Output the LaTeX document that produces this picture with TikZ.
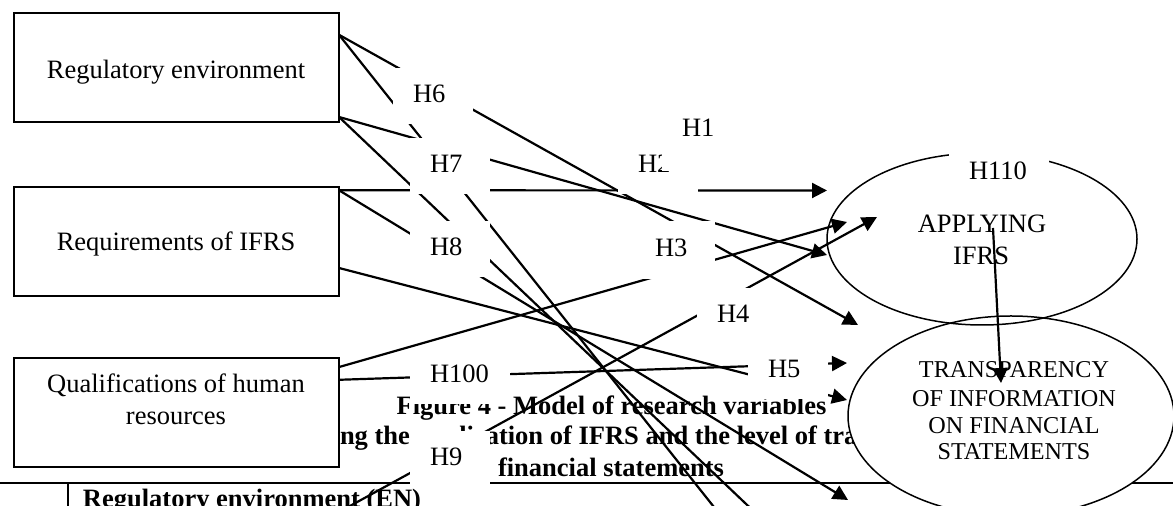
\documentclass[tikz,border=0pt]{standalone}
\usepackage{fontspec}
\setmainfont{Liberation Serif}
\usetikzlibrary{arrows.meta,calc,shapes.geometric}
\begin{document}
\begin{tikzpicture}[x=0.5pt,y=-0.5pt,
  txt/.style={font=\fontsize{13.25}{15}\selectfont, inner sep=0pt, outer sep=0pt, anchor=base},
  captxt/.style={font=\bfseries\fontsize{13.25}{15}\selectfont, inner sep=0pt, outer sep=0pt, anchor=base},
  etxt/.style={font=\fontsize{12.1}{14}\selectfont, inner sep=0pt, outer sep=0pt, anchor=base},
  varbox/.style={draw, line width=1pt, fill=white, minimum width=162.5pt, minimum height=54.5pt, anchor=north west, inner sep=0pt, outer sep=0pt},
  ell/.style={ellipse, draw, line width=0.75pt, inner sep=0pt, outer sep=0pt},
  tabrule/.style={line width=1pt},
  conn/.style={line width=1.1pt},
  arr/.style={conn, -{Triangle[length=7.5pt,width=7.5pt]}},
  lbl/.style={fill=white, anchor=north west, inner xsep=10pt, inner ysep=0pt, text width=20pt, align=left,
              minimum height=28pt, text height=7pt, text depth=0pt, outer sep=0pt,
              font=\fontsize{13.25}{15}\selectfont},
  wide/.style={text width=30pt}]
\useasboundingbox (0,0) rectangle (1173,506);
\clip (0,0) rectangle (1173,506);
\fill[white] (0,0) rectangle (1173,506);

% caption and table (behind)
\node[captxt] (cap1) at (611.5,415) {Figure 4 - Model of research variables};
\node[captxt, anchor=base west] (cap2) at (340,445) {ng the application of IFRS and the level of tra};
\node[captxt] (cap3) at (611,477) {financial statements};
\coordinate (tl) at (0,483);
\coordinate (tr) at (1173,483);
\draw[tabrule] (tl) -- (tr);
\coordinate (vt) at (68,483);
\coordinate (vb) at (68,512);
\draw[tabrule] (vt) -- (vb);
\node[captxt, anchor=base west] (tab) at (83,507.5) {Regulatory environment (EN)};

% boxes
\node[varbox] (box1) at (14,13) {};
\node[varbox] (box2) at (14,187) {};
\node[varbox] (box3) at (14,358) {};
\node[txt] (t1) at (176,79) {Regulatory environment};
\node[txt] (t2) at (176,251) {Requirements of IFRS};
\node[txt] (t3a) at (176,393) {Qualifications of human};
\node[txt] (t3b) at (176,425) {resources};

% ellipses
\node[ell, fill=white, minimum width=163pt, minimum height=100pt] (e2) at (1011,416) {};
\node[ell, minimum width=155pt, minimum height=86pt] (e1) at (982,239) {};
\node[txt] (a1) at (982,233) {APPLYING};
\node[txt] (a2) at (981,265) {IFRS};
\node[etxt] (b1) at (1014,378) {TRANSPARENCY};
\node[etxt] (b2) at (1014,407) {OF INFORMATION};
\node[etxt] (b3) at (1014,434) {ON FINANCIAL};
\node[etxt] (b4) at (1014,460) {STATEMENTS};

% connector end points
\coordinate (sa) at ($(box1.north east)!0.2!(box1.south east)$);
\coordinate (sc) at ($(box1.north east)!0.954!(box1.south east)$);
\coordinate (sh) at ($(box2.north east)!0.03!(box2.south east)$);
\coordinate (sf) at ($(box2.north east)!0.743!(box2.south east)$);
\coordinate (sg) at ($(box3.north east)!0.083!(box3.south east)$);
\coordinate (sk) at ($(box3.north east)!0.2!(box3.south east)$);
\coordinate (ta) at (858,325);
\coordinate (tb) at (756,560);
\coordinate (tc) at (827,255);
\coordinate (td) at (805,560);
\coordinate (th) at (827,190.5);
\coordinate (te) at (848,500);
\coordinate (tf) at (847,400);
\coordinate (tg) at (847,222);
\coordinate (tk) at (847,363);
\coordinate (sm) at (300,533.4);
\coordinate (tm) at (877,217);
\coordinate (sv) at (993,228);
\coordinate (tv) at (1001,383);

% connectors
\draw[arr] (sa) -- (ta);
\draw[conn] (sa) -- (tb);
\draw[arr] (sc) -- (tc);
\draw[conn] (sc) -- (td);
\draw[arr] (sh) -- (th);
\draw[arr] (sh) -- (te);
\draw[arr] (sf) -- (tf);
\draw[arr] (sg) -- (tg);
\draw[arr] (sk) -- (tk);
\draw[arr] (sm) -- (tm);
\draw[arr] (sv) -- (tv);

% hypothesis labels (white text boxes)
\node[lbl] (h6) at (393,68) {H6};
\node[lbl] (h7) at (410,138) {H7};
\node[lbl] (h8) at (410,221) {H8};
\node[lbl] (h2) at (618,138) {H2};
\node[lbl, minimum height=34pt, text depth=7pt] (h1) at (662,103) {H1};
\node[lbl, minimum height=29pt] (h3) at (635,221) {H3};
\node[lbl] (h4) at (697,288) {H4};
\node[lbl] (h5) at (748,343) {H5};
\node[lbl, wide] (h100) at (410,348) {H100};
\node[lbl] (h9) at (410,431) {H9};
\node[lbl, wide] (h110) at (949,145) {H110};
\end{tikzpicture}
\end{document}
